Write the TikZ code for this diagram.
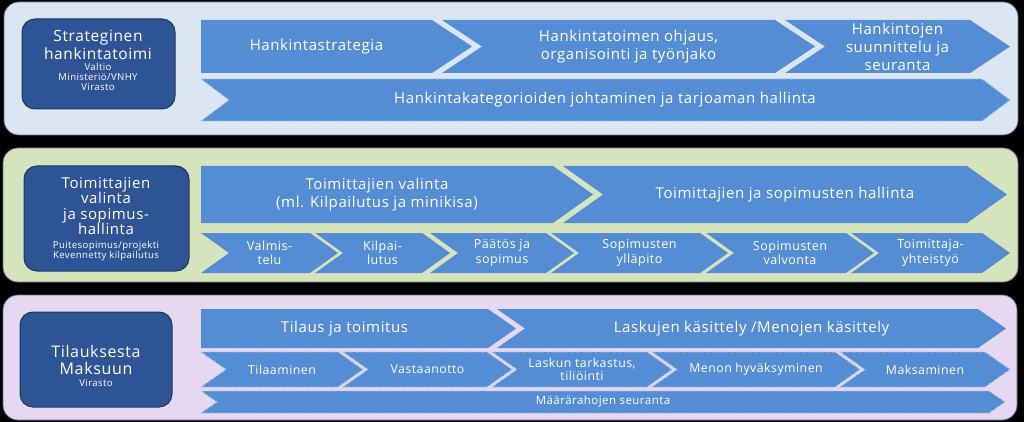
\documentclass[tikz,border=0pt]{standalone}
\usepackage{fontspec}
\setmainfont{Open Sans}[LetterSpace=4]
\definecolor{chevblue}{RGB}{84,141,212}
\definecolor{boxblue}{RGB}{47,84,150}
\definecolor{boxline}{RGB}{30,54,98}
\definecolor{bandblue}{RGB}{220,230,243}
\definecolor{bandgreen}{RGB}{214,228,190}
\definecolor{bandlilac}{RGB}{230,216,240}
\definecolor{bandline}{RGB}{95,115,145}
\definecolor{dashblue}{RGB}{165,196,234}
\tikzset{
  band/.style={rounded corners=15pt,draw=bandline,line width=0.8pt},
  ownerbox/.style={rounded corners=13pt,fill=boxblue,draw=boxline,line width=1pt},
  chev/.style={fill=chevblue},
  chevdash/.style={fill=chevblue,draw=dashblue,line width=0.8pt,dash pattern=on 4pt off 2pt},
  lbl/.style={text=white,align=center,inner sep=0pt},
  bigtxt/.style={font=\fontsize{15}{18}\selectfont},
  midtxt/.style={font=\fontsize{12.5}{14.5}\selectfont},
  titletxt/.style={font=\fontsize{15.5}{18}\selectfont},
  subtxt/.style={font=\fontsize{9.6}{9.8}\selectfont}
}
\begin{document}
\begin{tikzpicture}[x=1pt,y=-1pt]
  \fill[black] (0,0) rectangle (1024,422);
  \useasboundingbox (0,0) rectangle (1024,422);
  % bands
  \filldraw[band,fill=bandblue] (4,2) rectangle (1018,135);
  \filldraw[band,fill=bandgreen] (3,148) rectangle (1018,282);
  \filldraw[band,fill=bandlilac] (3,295) rectangle (1017,420);
  % owners
  \draw[ownerbox] (22,19) rectangle (175,109);
  \node[lbl,titletxt] (own1) at (98,45) {Strateginen\\hankintatoimi};
  \node[lbl,subtxt] (sub1) at (98,77) {Valtio\\Ministeriö/VNHY\\Virasto};
  \draw[ownerbox] (24,166) rectangle (189,271);
  \node[lbl,font=\fontsize{15}{15.2}\selectfont] (own2) at (106,206) {Toimittajien\\valinta\\ja sopimus-\\hallinta};
  \node[lbl,subtxt] (sub2) at (106,251) {Puitesopimus/projekti\\Kevennetty kilpailutus};
  \draw[ownerbox] (20,312) rectangle (172,407);
  \node[lbl,titletxt,font=\fontsize{16}{17.5}\selectfont] (own3) at (96,360) {Tilauksesta\\Maksuun};
  \node[lbl,subtxt] (sub3) at (96,383) {Virasto};
  % band 1
  \foreach \a/\e/\b/\txt [count=\i] in {201/0/432/Hankintastrategia,
      442/40/775/{Hankintatoimen ohjaus,\\organisointi ja työnjako},
      785/40/970/{Hankintojen\\suunnittelu ja\\seuranta}}{
    \fill[chev] (\a,20) -- (\b,20) -- (\b+40,46.5) -- (\b,73) -- (\a,73) -- (\a+\e,46.5) -- cycle;
    \node[lbl,bigtxt] (strat\i) at ({(\a+\e+\b)/2},46.5) {\txt};
  }
  \filldraw[chevdash] (201,79) -- (982,79) -- (1010,100) -- (982,121) -- (201,121) -- (229,100) -- cycle;
  \node[lbl,bigtxt] (kat) at (605,100) {Hankintakategorioiden johtaminen ja tarjoaman hallinta};
  % band 2
  \foreach \a/\e/\b/\txt [count=\i] in {201/0/553/{Toimittajien valinta\\(ml. Kilpailutus ja minikisa)},
      563/40/967/Toimittajien ja sopimusten hallinta}{
    \fill[chev] (\a,166) -- (\b,166) -- (\b+40,194.5) -- (\b,223) -- (\a,223) -- (\a+\e,194.5) -- cycle;
    \node[lbl,bigtxt] (toim\i) at ({(\a+\e+\b)/2},194.5) {\txt};
  }
  \foreach \a/\b/\txt [count=\i] in {201/310/{Valmis-\\telu}, 315/422/{Kilpai-\\lutus},
      430/546/{Päätös ja\\sopimus}, 551/700/{Sopimusten\\ylläpito},
      706/846/{Sopimusten\\valvonta}, 851/982/{Toimittaja-\\yhteistyö}}{
    \fill[chev] (\a,233) -- (\b,233) -- (\b+28,253) -- (\b,273) -- (\a,273) -- (\a+28,253) -- cycle;
    \node[lbl,midtxt] (vaihe\i) at ({(\a+28+\b)/2},253) {\txt};
  }
  % band 3
  \foreach \a/\e/\b/\txt [count=\i] in {201/0/488/Tilaus ja toimitus,
      497/28/978/{Laskujen käsittely /Menojen käsittely}}{
    \fill[chev] (\a,309) -- (\b,309) -- (\b+28,328.5) -- (\b,348) -- (\a,348) -- (\a+\e,328.5) -- cycle;
    \node[lbl,bigtxt] (tilaus\i) at ({(\a+\e+\b)/2},328.5) {\txt};
  }
  \foreach \a/\b/\txt [count=\i] in {201/338/Tilaaminen, 343/487/Vastaanotto,
      492/647/{Laskun tarkastus,\\tiliöinti}, 652/835/Menon hyväksyminen, 840/985/Maksaminen}{
    \filldraw[chevdash] (\a,352) -- (\b,352) -- (\b+25,369.5) -- (\b,387) -- (\a,387) -- (\a+25,369.5) -- cycle;
    \node[lbl,font=\fontsize{12.3}{13.5}\selectfont] (lasku\i) at ({(\a+25+\b)/2},369.5) {\txt};
  }
  \filldraw[chevdash] (201,391) -- (989,391) -- (1005,402) -- (989,413) -- (201,413) -- (217,402) -- cycle;
  \node[lbl,font=\fontsize{11.5}{12}\selectfont] (raha) at (603,402) {Määrärahojen seuranta};
\end{tikzpicture}
\end{document}
